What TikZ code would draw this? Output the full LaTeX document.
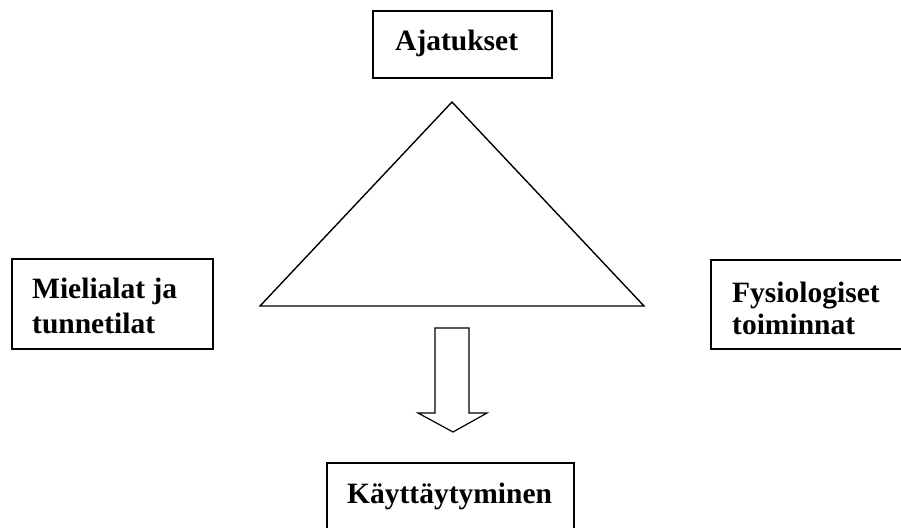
\documentclass[tikz,border=0pt]{standalone}
\usepackage{fontspec}
\setmainfont{Liberation Serif}
\begin{document}
\begin{tikzpicture}[x=1pt,y=-1pt,
  boxline/.style={draw=black,line width=1.6pt,fill=white},
  lbl/.style={anchor=base west,inner sep=0pt,font=\fontsize{29.5}{35}\selectfont\bfseries},
  shapeline/.style={draw=black,line width=1.4pt,line join=miter}]
\useasboundingbox (0,0) rectangle (901,527);
% boxes
\draw[boxline] (373,11) rectangle (552,78);
\draw[boxline] (12,259) rectangle (213,349);
\draw[boxline] (711,260) rectangle (940,349);
\draw[boxline] (327,463) rectangle (574,560);
% labels
\node[lbl] (ajat) at (395,50) {Ajatukset};
\node[lbl] (miel1) at (32,298) {Mielialat ja};
\node[lbl] (miel2) at (32,333) {tunnetilat};
\node[lbl] (fys1) at (732,302) {Fysiologiset};
\node[lbl] (fys2) at (732,334) {toiminnat};
\node[lbl] (kayt) at (347,503) {Käyttäytyminen};
% triangle
\coordinate (tA) at (452,102);
\coordinate (tL) at (260,306);
\coordinate (tR) at (644,306);
\draw[shapeline] (tA) -- (tL) -- (tR) -- cycle;
% block arrow
\coordinate (a1) at (435,328);
\coordinate (a2) at (469,328);
\coordinate (a3) at (469,413);
\coordinate (a4) at (487,413);
\coordinate (tip) at (453,432);
\coordinate (a6) at (418,413);
\coordinate (a7) at (435,413);
\draw[shapeline,line width=1.2pt] (a1) -- (a2) -- (a3) -- (a4) -- (tip) -- (a6) -- (a7) -- cycle;
\end{tikzpicture}
\end{document}
